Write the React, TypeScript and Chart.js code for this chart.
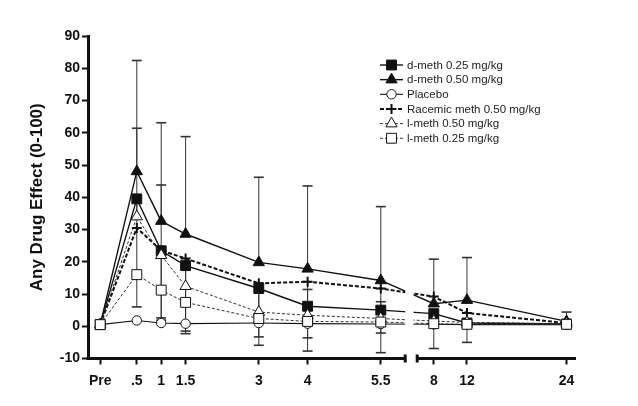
import React, { useEffect, useRef } from 'react';
import { Chart, registerables } from 'chart.js';

Chart.register(...registerables);

// ---------- data ----------
const TIME_LABELS = ['Pre', '.5', '1', '1.5', '3', '4', '5.5', '8', '12', '24'];
const TIME_HOURS = [-0.25, 0.5, 1, 1.5, 3, 4, 5.5, 8, 12, 24];

const DMETH_025 = [0.5, 39.5, 23.4, 18.8, 11.7, 6.2, 5.0, 3.9, 1.0, 0.7];
const DMETH_050 = [0.5, 48.0, 32.6, 28.6, 19.8, 17.8, 14.2, 7.0, 8.1, 1.5];
const PLACEBO = [0.5, 1.8, 1.0, 0.8, 1.0, 0.8, 0.7, 0.6, 0.5, 0.5];
const RACEMIC = [0.5, 30.5, 23.5, 21.0, 13.3, 13.8, 11.7, 9.2, 4.1, 1.0];
const LMETH_050 = [0.5, 34.0, 22.0, 12.4, 4.4, 3.4, 2.4, 1.6, 1.2, 0.8];
const LMETH_025 = [0.5, 16.0, 11.2, 7.4, 2.4, 1.5, 1.3, 0.8, 0.6, 0.6];

// error bar end values (null = not shown)
const DMETH_050_UPPER = [null, 82.4, 63.1, 58.8, 46.2, 43.5, 37.1, 20.8, 21.3, 4.4];
const DMETH_025_LOWER = [null, 6.0, 2.6, -2.3, -5.9, -7.7, -8.2, -6.9, -5.0, null];
const RACEMIC_LOWER = [null, null, 1.9, -1.5, -3.3, -3.6, -2.1, null, null, null];
const LMETH_050_UPPER = [null, 61.4, 43.8, null, null, 11.4, 7.6, null, null, null];

const Y_MIN = -10;
const Y_MAX = 90;
const Y_STEP = 10;
const Y_TITLE = 'Any Drug Effect (0-100)';

// ---------- broken time axis ----------
const BREAK_AT = 6;
const AXIS_GAP = 0.246;
const LINE_GAP = 0.17;
const LATE_SCALE = 0.17;
const axisPos = (h: number) => (h <= BREAK_AT ? h : BREAK_AT + AXIS_GAP + (h - BREAK_AT) * LATE_SCALE);
const X_TICKS = TIME_HOURS.map(axisPos);

const FONT = "'Liberation Sans', Arial, Helvetica, sans-serif";
const INK = '#111';

type Series = {
  label: string;
  values: number[];
  pointStyle: string;
  radius: number;
  fill: string;
  lineWidth: number;
  dash: number[];
  color: string;
  pointBorder: number;
  order: number;
};

const SERIES: Series[] = [
  { label: 'd-meth 0.25 mg/kg', values: DMETH_025, pointStyle: 'rect', radius: 7, fill: INK, lineWidth: 1.4, dash: [], color: INK, pointBorder: 1, order: 3 },
  { label: 'd-meth 0.50 mg/kg', values: DMETH_050, pointStyle: 'triangle', radius: 6.5, fill: INK, lineWidth: 1.4, dash: [], color: INK, pointBorder: 1, order: 5 },
  { label: 'Placebo', values: PLACEBO, pointStyle: 'circle', radius: 4.7, fill: '#fff', lineWidth: 1.1, dash: [], color: INK, pointBorder: 1, order: 2 },
  { label: 'Racemic meth 0.50 mg/kg', values: RACEMIC, pointStyle: 'cross', radius: 5, fill: INK, lineWidth: 2, dash: [4, 2], color: INK, pointBorder: 2, order: 4 },
  { label: 'l-meth 0.50 mg/kg', values: LMETH_050, pointStyle: 'triangle', radius: 6.5, fill: '#fff', lineWidth: 1, dash: [3, 2], color: '#333', pointBorder: 1, order: 1 },
  { label: 'l-meth 0.25 mg/kg', values: LMETH_025, pointStyle: 'rect', radius: 7, fill: '#fff', lineWidth: 1, dash: [3, 2], color: '#333', pointBorder: 1, order: 0 },
];

const ERROR_BARS = [
  { values: DMETH_050, ends: DMETH_050_UPPER },
  { values: DMETH_025, ends: DMETH_025_LOWER },
  { values: RACEMIC, ends: RACEMIC_LOWER },
  { values: LMETH_050, ends: LMETH_050_UPPER },
];

function drawMarker(ctx: CanvasRenderingContext2D, s: Series, x: number, y: number) {
  const r = s.radius;
  ctx.save();
  ctx.setLineDash([]);
  ctx.beginPath();
  if (s.pointStyle === 'rect') {
    const h = r * Math.SQRT1_2;
    ctx.rect(x - h, y - h, 2 * h, 2 * h);
  } else if (s.pointStyle === 'triangle') {
    ctx.moveTo(x, y - r);
    ctx.lineTo(x + r * 0.866, y + r / 2);
    ctx.lineTo(x - r * 0.866, y + r / 2);
    ctx.closePath();
  } else if (s.pointStyle === 'circle') {
    ctx.arc(x, y, r, 0, Math.PI * 2);
  } else {
    ctx.moveTo(x, y - r);
    ctx.lineTo(x, y + r);
    ctx.moveTo(x - r, y);
    ctx.lineTo(x + r, y);
  }
  if (s.pointStyle !== 'cross') {
    ctx.fillStyle = s.fill;
    ctx.fill();
  }
  ctx.strokeStyle = INK;
  ctx.lineWidth = s.pointBorder;
  ctx.stroke();
  ctx.restore();
}

const errorAndGapPlugin = {
  id: 'errorAndGap',
  beforeDatasetsDraw(chart: any) {
    const { ctx, scales } = chart;
    const xs = scales.x;
    const ys = scales.y;
    ctx.save();
    ctx.strokeStyle = '#333';
    for (const eb of ERROR_BARS) {
      eb.ends.forEach((end, i) => {
        if (end === null || end === undefined) return;
        const x = xs.getPixelForValue(axisPos(TIME_HOURS[i]));
        const y1 = ys.getPixelForValue(eb.values[i]);
        const y2 = ys.getPixelForValue(end);
        ctx.lineWidth = 1;
        ctx.beginPath();
        ctx.moveTo(x, y1);
        ctx.lineTo(x, y2);
        ctx.stroke();
        ctx.lineWidth = 1.6;
        ctx.beginPath();
        ctx.moveTo(x - 5, y2);
        ctx.lineTo(x + 5, y2);
        ctx.stroke();
      });
    }
    ctx.restore();
    // clip out the axis-break gap for the lines
    const g1 = xs.getPixelForValue(BREAK_AT);
    const g2 = xs.getPixelForValue(BREAK_AT + LINE_GAP);
    ctx.save();
    ctx.beginPath();
    ctx.rect(0, 0, g1, chart.height);
    ctx.rect(g2, 0, chart.width - g2, chart.height);
    ctx.clip();
  },
  afterDatasetsDraw(chart: any) {
    chart.ctx.restore();
  },
  afterDraw(chart: any) {
    const { ctx, scales, chartArea } = chart;
    const xs = scales.x;
    const yb = chartArea.bottom;
    const g1 = xs.getPixelForValue(BREAK_AT);
    const g2 = xs.getPixelForValue(BREAK_AT + AXIS_GAP);
    ctx.save();
    ctx.strokeStyle = INK;
    ctx.fillStyle = INK;
    ctx.lineWidth = 3;
    ctx.beginPath();
    ctx.moveTo(chartArea.left - 1.5, yb);
    ctx.lineTo(g1, yb);
    ctx.moveTo(g2, yb);
    ctx.lineTo(chartArea.right, yb);
    ctx.stroke();
    ctx.fillRect(g1 - 1.5, yb - 4, 3, 8);
    ctx.fillRect(g2 - 1.5, yb - 4, 3, 8);
    ctx.restore();

    // legend
    const x0 = 380;
    const x1 = 403;
    const mx = 391.5;
    const tx = 407;
    let y = 65;
    ctx.save();
    ctx.font = `11.5px ${FONT}`;
    ctx.textBaseline = 'middle';
    ctx.textAlign = 'left';
    for (const s of SERIES) {
      ctx.save();
      ctx.strokeStyle = s.color;
      ctx.lineWidth = s.lineWidth;
      ctx.setLineDash(s.dash);
      ctx.beginPath();
      ctx.moveTo(x0, y);
      ctx.lineTo(x1, y);
      ctx.stroke();
      ctx.restore();
      drawMarker(ctx, s, mx, y);
      ctx.fillStyle = '#222';
      ctx.fillText(s.label, tx, y + 0.5);
      y += 14.65;
    }
    ctx.restore();
  },
};

export default function App() {
  const ref = useRef<HTMLCanvasElement>(null);

  useEffect(() => {
    const canvas = ref.current;
    if (!canvas) return;
    Chart.defaults.font.family = FONT;
    const chart = new Chart(canvas, {
      type: 'line',
      data: {
        datasets: SERIES.map((s) => ({
          label: s.label,
          data: s.values.map((v, i) => ({ x: axisPos(TIME_HOURS[i]), y: v })),
          borderColor: s.color,
          borderWidth: s.lineWidth,
          borderDash: s.dash,
          backgroundColor: s.fill,
          pointStyle: s.pointStyle as any,
          pointRadius: s.radius,
          pointHoverRadius: s.radius,
          pointBackgroundColor: s.fill,
          pointBorderColor: INK,
          pointBorderWidth: s.pointBorder,
          tension: 0,
          fill: false,
          order: s.order,
          clip: false as any,
        })),
      },
      options: {
        responsive: false,
        animation: false,
        devicePixelRatio: 1,
        layout: { padding: { left: 22, right: 62, top: 36, bottom: 17.5 } },
        plugins: {
          legend: { display: false },
          tooltip: { enabled: false },
        },
        scales: {
          x: {
            type: 'linear',
            min: -0.5,
            max: 9.5,
            afterBuildTicks: (scale: any) => {
              scale.ticks = X_TICKS.map((v) => ({ value: v }));
            },
            afterFit: (scale: any) => {
              scale.height = 30;
            },
            ticks: {
              autoSkip: false,
              maxRotation: 0,
              minRotation: 0,
              padding: 8,
              color: INK,
              font: { family: FONT, size: 14, weight: 'bold' },
              callback: (_v: any, i: number) => TIME_LABELS[i],
            },
            grid: {
              display: true,
              drawOnChartArea: false,
              drawTicks: true,
              tickLength: 6,
              tickWidth: 2,
              tickColor: INK,
            },
            border: { display: false },
          },
          y: {
            type: 'linear',
            min: Y_MIN,
            max: Y_MAX,
            afterFit: (scale: any) => {
              scale.width = 66;
            },
            ticks: {
              stepSize: Y_STEP,
              padding: 2,
              color: INK,
              font: { family: FONT, size: 14, weight: 'bold' },
            },
            grid: {
              display: true,
              drawOnChartArea: false,
              drawTicks: true,
              tickLength: 6,
              tickWidth: 2,
              tickColor: INK,
            },
            border: { display: true, width: 3, color: INK },
            title: {
              display: true,
              text: Y_TITLE,
              color: INK,
              padding: { top: 5, bottom: 0 },
              font: { family: FONT, size: 17, weight: 'bold' },
            },
          },
        },
      },
      plugins: [errorAndGapPlugin],
    } as any);
    return () => chart.destroy();
  }, []);

  return (
    <canvas
      ref={ref}
      width={638}
      height={406}
      style={{ position: 'absolute', left: 0, top: 0, width: 638, height: 406, display: 'block' }}
    />
  );
}
